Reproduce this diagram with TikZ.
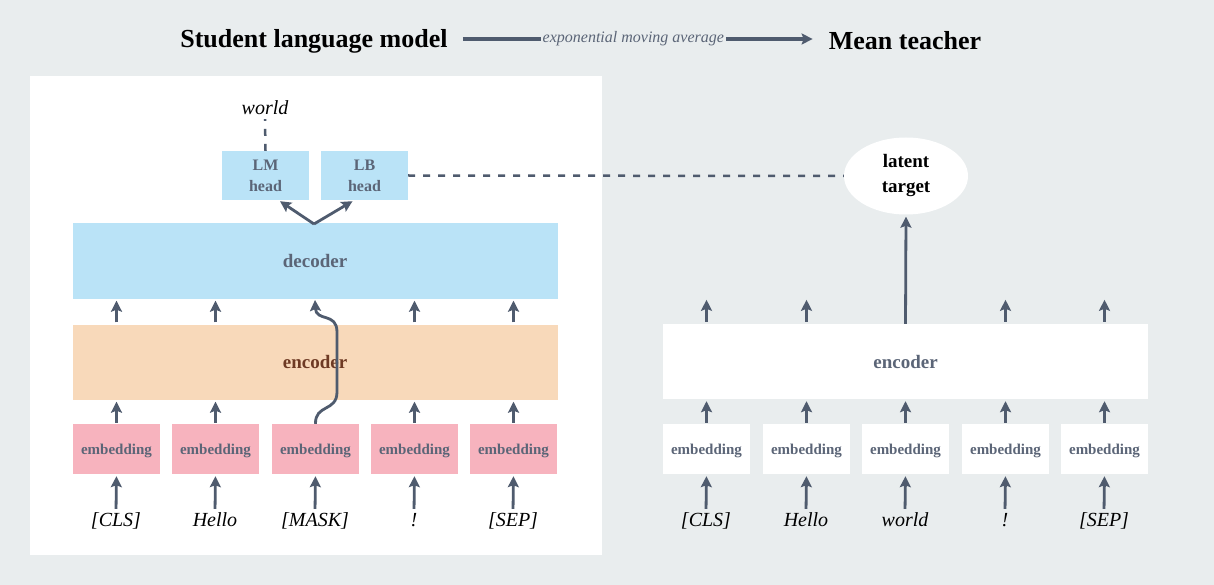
\documentclass[tikz,border=0pt]{standalone}
\usepackage{fontspec}
\setmainfont{Liberation Serif}
\usetikzlibrary{arrows.meta,shapes.geometric}
\definecolor{bg}{HTML}{E9EDEE}
\definecolor{lblue}{HTML}{BAE3F7}
\definecolor{peach}{HTML}{F8D9BA}
\definecolor{pinkb}{HTML}{F7B3BE}
\definecolor{arrc}{HTML}{4F5B6E}
\definecolor{tgray}{HTML}{5B6577}
\definecolor{brownt}{HTML}{6E3A24}
\tikzset{
  arr/.style={draw=arrc, line width=2.8pt, -{Stealth[length=11pt,width=11pt,inset=2pt]}},
  dashln/.style={draw=arrc, line width=2.5pt, dash pattern=on 7pt off 8pt},
  titlet/.style={font=\fontsize{26}{30}\selectfont\bfseries, text=black, inner sep=2pt},
  bigbox/.style={minimum width=485pt, minimum height=75pt, inner sep=0pt, font=\fontsize{19}{22}\selectfont\bfseries, text=tgray},
  embbox/.style={minimum width=87pt, minimum height=50pt, inner sep=0pt, font=\fontsize{15}{18}\selectfont\bfseries, text=tgray, text height=13pt, text depth=3pt},
  headbox/.style={fill=lblue, minimum width=87pt, minimum height=49pt, inner sep=0pt, align=center, font=\fontsize{16}{21}\selectfont\bfseries, text=tgray},
  tok/.style={font=\fontsize{20}{24}\selectfont\itshape, text=black, inner sep=0pt, text height=14pt, text depth=4pt},
}
\begin{document}
\begin{tikzpicture}[x=1pt,y=-1pt]
\useasboundingbox (0,0) rectangle (1214,585);
\fill[bg] (0,0) rectangle (1214,585);
\fill[white] (30,76) rectangle (602,555);

% title
\node[titlet] (slm) at (314,41) {Student language model};
\node[titlet] (mt) at (905,41) {Mean teacher};
\draw[arr, line width=3.2pt, shorten <=13pt, shorten >=14pt] ([yshift=2pt]slm.east) -- node[pos=0.487, fill=bg, inner sep=2pt, font=\fontsize{16}{19}\selectfont\itshape, text=tgray] {exponential moving average} ([yshift=2pt]mt.west);

% ---------- student ----------
\node[tok] (w) at (265,110) {world};
\node[headbox] (lm) at (265.5,175.5) {LM\\head};
\node[headbox] (lb) at (364.5,175.5) {LB\\head};
\node[bigbox, fill=lblue] (dec) at (315,261) {decoder};
\node[bigbox, fill=peach, text=brownt] (enc) at (315,362) {encoder};
\foreach \i/\x in {1/116.5,2/215.5,3/315.5,4/414.5,5/513.5}{
  \node[embbox, fill=pinkb] (e\i) at (\x,449) {embedding};
}
\node[tok] (t1) at (116,521) {[CLS]};
\node[tok] (t2) at (215,521) {Hello};
\node[tok] (t3) at (315,521) {[MASK]};
\node[tok] (t4) at (414,521) {!};
\node[tok] (t5) at (513,521) {[SEP]};

\draw[dashln] (lm.north) -- (w.south);
\coordinate (dtop) at (314,224);
\draw[arr] (dtop) -- ([xshift=14.5pt,yshift=-1pt]lm.south);
\draw[arr] (dtop) -- ([xshift=-12pt,yshift=-1pt]lb.south);

\foreach \i in {1,2,3,4,5}{
  \draw[arr, shorten <=3pt, shorten >=2pt] (t\i.north) -- (e\i.south);
}
\foreach \i in {1,2,4,5}{
  \draw[arr, shorten <=1pt, shorten >=2pt] (e\i.north) -- (e\i.north |- enc.south);
  \draw[arr, shorten <=2pt, shorten >=2pt] (e\i.north |- enc.north) -- (e\i.north |- dec.south);
}
\coordinate (cvtop) at (315,300);
\draw[arr] (e3.north) .. controls (315,404) and (337,412) .. (337,392) -- (337,332) .. controls (337,312) and (316,322) .. (cvtop);

% ---------- teacher ----------
\node[bigbox, fill=white] (tenc) at (905.5,361.5) {encoder};
\foreach \i/\x in {1/706.5,2/806.5,3/905.5,4/1005.5,5/1104.5}{
  \node[embbox, fill=white] (f\i) at (\x,449) {embedding};
}
\node[tok] (u1) at (706,521) {[CLS]};
\node[tok] (u2) at (806,521) {Hello};
\node[tok] (u3) at (905,521) {world};
\node[tok] (u4) at (1005,521) {!};
\node[tok] (u5) at (1104,521) {[SEP]};
\node[ellipse, fill=white, minimum width=124pt, minimum height=77pt, inner sep=0pt, align=center, font=\fontsize{19}{25}\selectfont\bfseries, text=black] (lt) at (906,176) {latent\\target};

\foreach \i in {1,2,3,4,5}{
  \draw[arr, shorten <=3pt, shorten >=2pt] (u\i.north) -- (f\i.south);
  \draw[arr, shorten <=1pt, shorten >=2pt] (f\i.north) -- (f\i.north |- tenc.south);
}
\foreach \i in {1,2,4,5}{
  \draw[arr, shorten <=2pt] (f\i.north |- tenc.north) -- ([yshift=24pt]f\i.north |- tenc.north);
}
\draw[arr, shorten >=2pt] (f3.north |- tenc.north) -- (lt.south);
\draw[dashln] (lb.east) -- (lt.west);
\end{tikzpicture}
\end{document}
